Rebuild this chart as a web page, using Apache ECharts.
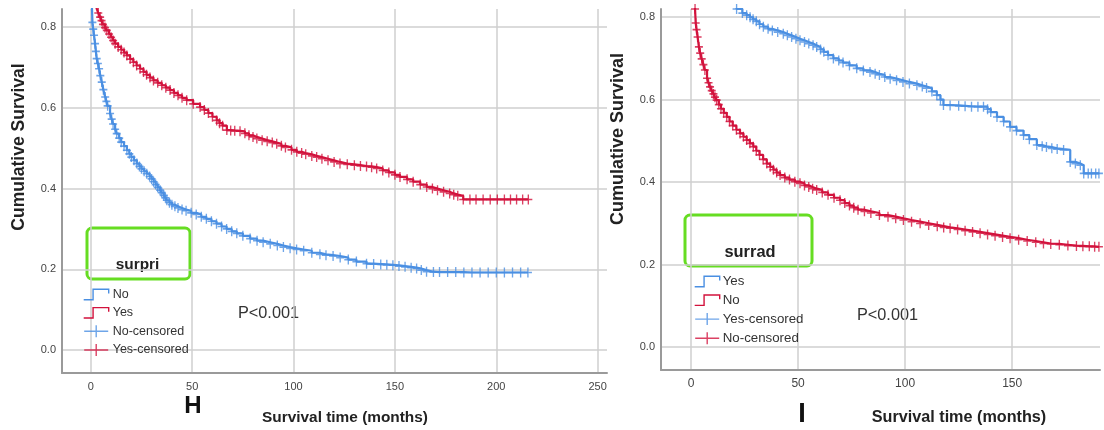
<!DOCTYPE html>
<html><head><meta charset="utf-8">
<script src="https://cdn.jsdelivr.net/npm/echarts@6/dist/echarts.min.js"></script>
<style>html,body{margin:0;padding:0;background:#fff}#c{width:1104px;height:430px}</style>
</head><body><div id="c"></div>
<script>
// ---- Data (time in months, cumulative survival) ----
const H_NO = [[0,1.0],[0.5,0.86],[0.8,0.812],[1.2,0.795],[1.6,0.78],[2.1,0.759],[2.5,0.74],[2.9,0.722],[3.5,0.71],[4.1,0.697],[4.7,0.68],[5.4,0.664],[6.2,0.645],[7.1,0.627],[7.7,0.616],[8.3,0.605],[9.5,0.586],[10.3,0.572],[11,0.56],[12,0.547],[12.8,0.536],[14,0.525],[15,0.515],[16.4,0.505],[17.8,0.495],[19,0.486],[20,0.478],[21.3,0.47],[22.7,0.462],[24,0.455],[25,0.449],[26.3,0.443],[27.6,0.437],[29,0.43],[30,0.424],[31,0.417],[32,0.41],[33,0.403],[34.2,0.396],[35,0.39],[36,0.383],[36.8,0.377],[37.5,0.371],[38.8,0.365],[40,0.36],[41.5,0.356],[43,0.352],[45,0.348],[47,0.345],[49.5,0.34],[52,0.336],[54.5,0.33],[57,0.325],[59.5,0.319],[62,0.313],[64.5,0.306],[67,0.3],[69.5,0.294],[72,0.289],[75,0.283],[78.6,0.276],[82,0.271],[85,0.267],[88.5,0.263],[92,0.259],[95,0.255],[98.3,0.252],[101.5,0.249],[105,0.246],[109,0.241],[113,0.237],[116,0.235],[119.5,0.233],[123,0.229],[127,0.224],[131,0.219],[136,0.214],[139.5,0.213],[143,0.212],[146,0.211],[149,0.21],[152,0.208],[155,0.206],[158,0.204],[160.7,0.202],[163,0.198],[165.6,0.194],[169,0.193],[172,0.193],[176,0.193],[180,0.193],[184,0.192],[188,0.192],[192,0.192],[196,0.192],[200,0.192],[204,0.192],[208,0.192],[212,0.192],[215.6,0.192]];
const H_YES = [[0,1.0],[1,0.95],[2,0.89],[2.9,0.846],[3.7,0.835],[4.6,0.825],[5.3,0.816],[6,0.807],[7,0.799],[7.9,0.792],[9,0.783],[10,0.775],[11,0.767],[12,0.759],[13.5,0.751],[15,0.744],[16.4,0.737],[17.8,0.73],[19.4,0.721],[21,0.713],[22.6,0.705],[24.3,0.697],[26,0.689],[27.5,0.682],[29.2,0.675],[30.9,0.668],[33,0.662],[35,0.656],[37,0.65],[39.1,0.644],[41,0.637],[43,0.631],[45,0.625],[47.3,0.619],[50.5,0.61],[53.9,0.602],[56,0.595],[58,0.587],[60,0.578],[62.1,0.569],[63.5,0.562],[65,0.556],[67.1,0.545],[69,0.544],[71,0.543],[73.6,0.542],[76,0.537],[78,0.532],[80,0.528],[81.9,0.524],[84.5,0.52],[87,0.517],[89.5,0.514],[91.7,0.511],[94,0.506],[96,0.502],[99,0.496],[101.6,0.491],[104,0.488],[106,0.485],[109,0.481],[111.4,0.478],[114,0.474],[117,0.47],[120,0.466],[122.9,0.462],[126.5,0.46],[130,0.458],[133,0.456],[136,0.455],[138.5,0.453],[141,0.45],[144,0.445],[147,0.44],[150,0.434],[152.5,0.429],[156,0.423],[159,0.417],[162.5,0.41],[165.7,0.404],[168.5,0.4],[171,0.396],[174,0.392],[177,0.388],[179,0.385],[181,0.382],[183.7,0.373],[187,0.373],[190,0.373],[193.5,0.373],[197,0.373],[200.5,0.373],[204,0.373],[207,0.373],[210,0.373],[213,0.373],[215.8,0.373]];
const I_NO = [[0,1.0],[1,0.92],[1.9,0.82],[2.2,0.786],[2.6,0.77],[3.1,0.752],[3.7,0.728],[4.3,0.713],[5,0.699],[5.8,0.685],[6.5,0.672],[7.5,0.652],[8.2,0.641],[8.9,0.631],[9.7,0.622],[10.5,0.614],[11.2,0.606],[12,0.599],[13,0.588],[14,0.578],[15.3,0.568],[16.7,0.558],[18,0.547],[19.5,0.537],[21.2,0.527],[22.9,0.518],[24.5,0.51],[26,0.502],[27.5,0.494],[29.1,0.486],[30.5,0.476],[32,0.466],[33.7,0.455],[35.4,0.445],[37,0.437],[38.5,0.43],[40,0.423],[41.6,0.417],[43.8,0.411],[46,0.406],[48.5,0.401],[50.9,0.397],[53,0.392],[55,0.388],[56.8,0.384],[58.7,0.381],[61.3,0.375],[64,0.369],[66.8,0.362],[69.6,0.356],[71.8,0.349],[74,0.343],[76,0.338],[78,0.333],[81,0.329],[84,0.325],[88,0.32],[92,0.316],[95.6,0.312],[99.2,0.308],[103,0.304],[107,0.3],[111,0.296],[115,0.293],[118,0.29],[121,0.288],[124.5,0.285],[128,0.282],[131.5,0.279],[135,0.276],[138.5,0.273],[142,0.27],[145.5,0.267],[149,0.264],[153,0.26],[157,0.257],[161,0.254],[164.6,0.251],[168,0.25],[172,0.248],[176,0.246],[180,0.245],[183,0.244],[186,0.244],[188.5,0.243],[190.5,0.243]];
const I_YES = [[0,1.0],[3,0.97],[6,0.94],[10,0.9],[14,0.87],[18,0.84],[21.3,0.82],[24,0.81],[26,0.805],[27.6,0.8],[29,0.795],[30.5,0.79],[32,0.783],[33.8,0.777],[36,0.772],[38,0.768],[40.5,0.764],[43.1,0.76],[45,0.756],[47,0.752],[49,0.748],[50.9,0.744],[53,0.74],[55,0.736],[57,0.732],[58.7,0.728],[60.5,0.722],[62,0.716],[64,0.708],[66.5,0.7],[69,0.695],[71,0.69],[74,0.683],[77.4,0.676],[80.5,0.671],[83.6,0.667],[86,0.663],[88,0.66],[90.5,0.655],[93,0.651],[96,0.647],[99,0.643],[102,0.639],[105.5,0.635],[108,0.632],[110,0.628],[112.5,0.62],[114.8,0.611],[116.5,0.6],[117.9,0.587],[121,0.586],[125,0.585],[128,0.584],[131,0.583],[134,0.583],[136.6,0.583],[138.5,0.577],[140,0.57],[142.9,0.558],[146,0.547],[149,0.534],[152,0.525],[155.3,0.514],[158,0.504],[161.5,0.49],[164,0.487],[166,0.485],[168.5,0.482],[171,0.48],[174,0.478],[177.1,0.449],[179.5,0.445],[181.8,0.441],[183.4,0.421],[185.5,0.421],[187,0.421],[189,0.421],[190.5,0.421]];

const H_LEGEND = ['H No','H Yes','H No-censored','H Yes-censored'];
const I_LEGEND = ['I Yes','I No','I Yes-censored','I No-censored'];

const BLUE = '#4a8fe2', RED = '#d2123c', GREEN = '#66dd22';
const STEP_ICON = 'path://M0,11L9,11L9,1L24,1L24,5';
const PLUS_ICON = 'path://M0,6L24,6M12,0L12,12';
const PLUS = 'path://M5,0L5,10M0,5L10,5';
const FONT = '"Liberation Sans", Arial, sans-serif';

function km(name, data, color, ai) {
  return [{
    type:'line', name:name, xAxisIndex:ai, yAxisIndex:ai, data:data, step:'end',
    showSymbol:false, symbol:'none', lineStyle:{color:color, width:2.2}, itemStyle:{color:color},
    animation:false, silent:true
  },{
    type:'scatter', name:name+'-censored', xAxisIndex:ai, yAxisIndex:ai, data:data,
    symbol:PLUS, symbolSize:[8,10],
    itemStyle:{color:'rgba(0,0,0,0)', borderColor:color, borderWidth:1.5},
    animation:false, silent:true
  }];
}

function xAx(gi, min, max, fs) {
  return {type:'value', gridIndex:gi, min:min, max:max, splitNumber:5,
    axisLine:{show:true, onZero:false, lineStyle:{color:'#9a9a9a', width:2}},
    axisTick:{show:false},
    axisLabel:{color:'#444', fontSize:fs, fontFamily:FONT, margin:8, showMinLabel:false, showMaxLabel:false},
    splitLine:{show:true, showMinLine:false, showMaxLine:false, lineStyle:{color:'#cfcfcf', width:1.5}}};
}
function yAx(gi, min, max, fs) {
  return {type:'value', gridIndex:gi, min:min, max:max, splitNumber:5,
    axisLine:{show:true, onZero:false, lineStyle:{color:'#9a9a9a', width:2}},
    axisTick:{show:false},
    axisLabel:{color:'#444', fontSize:fs, fontFamily:FONT, margin:6, showMinLabel:false, showMaxLabel:false,
      formatter:function(v){return v.toFixed(1);}},
    splitLine:{show:true, showMinLine:false, showMaxLine:false, lineStyle:{color:'#cfcfcf', width:1.5}}};
}
function legItem(name, color, icon) {
  return {name:name, icon:icon, itemStyle:{color:'rgba(0,0,0,0)', borderColor:color, borderWidth:1.4}};
}
function txt(x, y, text, size, weight, rot, color) {
  return {type:'text', x:x, y:y, rotation:rot||0, silent:true,
    style:{text:text, fill:color||'#222', font:(weight||'normal')+' '+size+'px '+FONT, align:'center', verticalAlign:'middle'}};
}

const chart = echarts.init(document.getElementById('c'), null, {renderer:'canvas'});
chart.setOption({
  backgroundColor:'#fff',
  animation:false,
  grid:[{left:62, top:9, width:545, height:364},{left:661, top:9, width:439, height:361}],
  xAxis:[xAx(0,-14.2,254.6,11), xAx(1,-14,191,12)],
  yAxis:[yAx(0,-0.057,0.845,11), yAx(1,-0.056,0.82,11)],
  legend:[{
    orient:'vertical', left:83, top:288, padding:0, itemWidth:25, itemHeight:12, itemGap:5.3,
    selectedMode:false, formatter:function(n){return n.slice(2);},
    textStyle:{color:'#333', fontSize:12.5, fontFamily:FONT, padding:[0,0,0,-1]},
    data:[legItem(H_LEGEND[0],BLUE,STEP_ICON),legItem(H_LEGEND[1],RED,STEP_ICON),legItem(H_LEGEND[2],BLUE,PLUS_ICON),legItem(H_LEGEND[3],RED,PLUS_ICON)]
  },{
    orient:'vertical', left:694, top:275, padding:0, itemWidth:25, itemHeight:12, itemGap:5.7,
    selectedMode:false, formatter:function(n){return n.slice(2);},
    textStyle:{color:'#333', fontSize:13.3, fontFamily:FONT, padding:[0,0,0,-2]},
    data:[legItem(I_LEGEND[0],BLUE,STEP_ICON),legItem(I_LEGEND[1],RED,STEP_ICON),legItem(I_LEGEND[2],BLUE,PLUS_ICON),legItem(I_LEGEND[3],RED,PLUS_ICON)]
  }],
  series:[].concat(
    km('H No', H_NO, BLUE, 0), km('H Yes', H_YES, RED, 0),
    km('I Yes', I_YES, BLUE, 1), km('I No', I_NO, RED, 1)
  ),
  graphic:[
    {type:'rect', shape:{x:87, y:228, width:103, height:51, r:5}, style:{fill:'none', stroke:GREEN, lineWidth:3}, silent:true},
    {type:'rect', shape:{x:685, y:215, width:127, height:51, r:5}, style:{fill:'none', stroke:GREEN, lineWidth:3}, silent:true},
    txt(137.5, 265, 'surpri', 15.4, 'bold'),
    txt(750, 252, 'surrad', 16.4, 'bold'),
    txt(268.5, 314, 'P<0.001', 16.3, 'normal', 0, '#333'),
    txt(887.5, 316, 'P<0.001', 16.3, 'normal', 0, '#333'),
    txt(193, 406, 'H', 24, 'bold', 0, '#111'),
    txt(802, 415, 'I', 27, 'bold', 0, '#111'),
    txt(345, 418, 'Survival time (months)', 15.4, 'bold'),
    txt(959, 418, 'Survival time (months)', 16.2, 'bold'),
    txt(19, 147, 'Cumulative Survival', 17.5, 'bold', Math.PI/2),
    txt(618, 139, 'Cumulative Survival', 18, 'bold', Math.PI/2)
  ]
});
</script>
</body></html>
